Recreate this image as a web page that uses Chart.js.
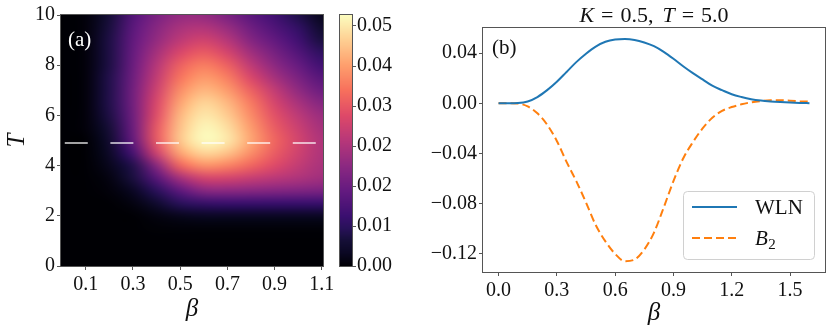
<!DOCTYPE html>
<html>
<head>
<meta charset="utf-8">
<script src="https://cdn.jsdelivr.net/npm/chart.js@4.4.1/dist/chart.umd.min.js"></script>
<style>
  html, body { margin: 0; padding: 0; background: #ffffff; }
  #wrap { position: relative; width: 831px; height: 332px; overflow: hidden; background: #fff; }
  canvas { position: absolute; top: 0; }
</style>
</head>
<body>
<div id="wrap">
  <canvas id="heat" width="340" height="332" style="left:0px"></canvas>
  <canvas id="cbar" width="90" height="332" style="left:330px"></canvas>
  <canvas id="lines" width="411" height="332" style="left:420px"></canvas>
</div>
<script>
// ---------------- DATA ----------------
// Panel (a): WLN heat map, rows = T values, columns = beta values
const betaGrid = [0.0, 0.1, 0.2, 0.3, 0.4, 0.5, 0.6, 0.7, 0.8, 0.9, 1.0, 1.1];
const tGrid = [0, 0.5, 1, 1.5, 2, 2.5, 3, 3.5, 4, 4.5, 5, 5.5, 6, 6.5, 7, 7.5, 8, 8.5, 9, 9.5, 10];
const wlnGrid = [
  [0,0,0,0,0,0,0,0,0,0,0,0],
  [0,0,0,0,0,0,0,0,0,0,0,0],
  [0,0,0,0,0,0,0,0,0,0,0,0],
  [0,0,0,0,0.0002,0.0003,0.0003,0.0003,0.0003,0.0003,0.0003,0.0003],
  [0,0,0,0,0.0010,0.0020,0.0026,0.0026,0.0026,0.0026,0.0026,0.0026],
  [0,0,0,0.0010,0.0041,0.0077,0.0092,0.0097,0.0097,0.0097,0.0097,0.0097],
  [0,0,0.0005,0.0026,0.0077,0.0143,0.0194,0.0199,0.0194,0.0189,0.0184,0.0179],
  [0,0,0.0010,0.0056,0.0133,0.0230,0.0286,0.0286,0.0270,0.0255,0.0240,0.0224],
  [0,0,0.0020,0.0066,0.0194,0.0337,0.0388,0.0372,0.0337,0.0301,0.0265,0.0235],
  [0,0,0.0031,0.0112,0.0281,0.0408,0.0459,0.0439,0.0383,0.0326,0.0281,0.0240],
  [0,0,0.0041,0.0148,0.0321,0.0444,0.0500,0.0479,0.0408,0.0337,0.0286,0.0240],
  [0,0.0005,0.0051,0.0158,0.0321,0.0439,0.0495,0.0469,0.0398,0.0326,0.0275,0.0230],
  [0,0.0005,0.0061,0.0163,0.0306,0.0428,0.0479,0.0449,0.0380,0.0310,0.0258,0.0216],
  [0,0.0005,0.0066,0.0168,0.0296,0.0408,0.0459,0.0428,0.0362,0.0290,0.0234,0.0190],
  [0,0.0005,0.0066,0.0168,0.0281,0.0383,0.0428,0.0398,0.0332,0.0265,0.0204,0.0160],
  [0,0.0005,0.0066,0.0163,0.0265,0.0357,0.0398,0.0367,0.0296,0.0230,0.0178,0.0133],
  [0,0.0005,0.0061,0.0158,0.0250,0.0332,0.0367,0.0332,0.0260,0.0199,0.0153,0.0107],
  [0,0.0005,0.0061,0.0153,0.0230,0.0296,0.0326,0.0290,0.0224,0.0173,0.0128,0.0082],
  [0,0.0005,0.0061,0.0148,0.0209,0.0260,0.0285,0.0250,0.0189,0.0148,0.0107,0.0056],
  [0,0.0005,0.0056,0.0140,0.0194,0.0235,0.0245,0.0214,0.0163,0.0125,0.0087,0.0038],
  [0,0.0005,0.0051,0.0130,0.0178,0.0209,0.0209,0.0178,0.0138,0.0107,0.0064,0.0020]
];
const cutBeta = [0.011, 1.079];   // dashed cut line extent
const cutT = 4.9;
const heatXTicks = [0.1, 0.3, 0.5, 0.7, 0.9, 1.1];
const heatYTicks = [0, 2, 4, 6, 8, 10];
const cbarMax = 0.0502;
const cbarTicks = [0, 0.008, 0.016, 0.024, 0.032, 0.040, 0.048];

// Panel (b): cut at K = 0.5, T = 5.0
const betaLine = [0.00,0.05,0.10,0.15,0.20,0.25,0.30,0.35,0.40,0.45,0.50,0.55,0.60,0.65,0.70,0.75,0.80,
                  0.85,0.90,0.95,1.00,1.05,1.10,1.15,1.20,1.25,1.30,1.35,1.40,1.45,1.50,1.55,1.60];
const wlnLine = [0.0000,0.0000,0.0002,0.0015,0.0050,0.0105,0.0172,0.0250,0.0328,0.0395,0.0452,0.0490,0.0508,
                 0.0512,0.0505,0.0485,0.0455,0.0410,0.0355,0.0295,0.0240,0.0190,0.0140,0.0105,0.0072,0.0050,
                 0.0033,0.0022,0.0015,0.0010,0.0006,0.0003,0.0001];
const b2Line = [0.0000,0.0000,-0.0002,-0.0025,-0.0080,-0.0170,-0.0300,-0.0467,-0.0620,-0.0790,-0.0970,-0.1100,
                -0.1200,-0.1258,-0.1245,-0.1165,-0.1030,-0.0830,-0.0620,-0.0440,-0.0310,-0.0200,-0.0115,-0.0060,
                -0.0030,-0.0008,0.0008,0.0018,0.0024,0.0024,0.0021,0.0017,0.0013];
const lineXTicks = [0.0, 0.3, 0.6, 0.9, 1.2, 1.5];
const lineYTicks = [-0.12, -0.08, -0.04, 0.00, 0.04];

// ---------------- STYLE HELPERS ----------------
const SERIF = '"Liberation Serif", "DejaVu Serif", serif';
const FRAME = '#555555';
const magmaStops = [
  [0.00, [0, 0, 4]], [0.05, [10, 7, 34]], [0.10, [20, 14, 54]], [0.15, [40, 17, 89]],
  [0.20, [59, 15, 112]], [0.30, [100, 26, 128]], [0.40, [140, 41, 129]], [0.50, [183, 55, 121]],
  [0.60, [222, 73, 104]], [0.70, [247, 112, 92]], [0.80, [254, 159, 109]], [0.90, [254, 207, 146]],
  [1.00, [252, 253, 191]]
];
function magma(t) {
  t = Math.max(0, Math.min(1, t));
  for (let i = 1; i < magmaStops.length; i++) {
    if (t <= magmaStops[i][0]) {
      const [t0, c0] = magmaStops[i - 1], [t1, c1] = magmaStops[i];
      const f = (t - t0) / (t1 - t0);
      return [0, 1, 2].map(k => Math.round(c0[k] + f * (c1[k] - c0[k])));
    }
  }
  return magmaStops[magmaStops.length - 1][1];
}
function fixedTicks(list) {
  return function (scale) { scale.ticks = list.map(v => ({ value: v })); };
}
function frame(chart) {
  const a = chart.chartArea, ctx = chart.ctx;
  ctx.save();
  ctx.strokeStyle = FRAME; ctx.lineWidth = 1;
  ctx.strokeRect(Math.round(a.left) - 0.5, Math.round(a.top) - 0.5,
                 Math.round(a.right - a.left) + 1, Math.round(a.bottom - a.top) + 1);
  ctx.restore();
}
const tickFont = { family: SERIF, size: 20 };
const titleFont = { family: SERIF, size: 25, style: 'italic' };
const gridTicksOnly = { display: true, drawOnChartArea: false, drawTicks: true, tickLength: 4, tickColor: FRAME, tickWidth: 1 };

// ---------------- PANEL (a) HEATMAP ----------------
const heatPlugin = {
  id: 'heatmap',
  beforeDatasetsDraw(chart) {
    const xs = chart.scales.x, ys = chart.scales.y, a = chart.chartArea, ctx = chart.ctx;
    const nx = betaGrid.length, ny = tGrid.length;
    const off = document.createElement('canvas');
    off.width = nx; off.height = ny;
    const octx = off.getContext('2d');
    const img = octx.createImageData(nx, ny);
    for (let r = 0; r < ny; r++) {
      const row = wlnGrid[ny - 1 - r];
      for (let c = 0; c < nx; c++) {
        const col = magma(row[c] / cbarMax);
        const p = (r * nx + c) * 4;
        img.data[p] = col[0]; img.data[p + 1] = col[1]; img.data[p + 2] = col[2]; img.data[p + 3] = 255;
      }
    }
    octx.putImageData(img, 0, 0);
    const dB = (betaGrid[1] - betaGrid[0]) / 2, dT = (tGrid[1] - tGrid[0]) / 2;
    const x0 = xs.getPixelForValue(betaGrid[0] - dB), x1 = xs.getPixelForValue(betaGrid[nx - 1] + dB);
    const y0 = ys.getPixelForValue(tGrid[ny - 1] + dT), y1 = ys.getPixelForValue(tGrid[0] - dT);
    ctx.save();
    ctx.beginPath(); ctx.rect(a.left, a.top, a.right - a.left, a.bottom - a.top); ctx.clip();
    ctx.imageSmoothingEnabled = true; ctx.imageSmoothingQuality = 'high';
    ctx.drawImage(off, x0, y0, x1 - x0, y1 - y0);
    ctx.restore();
  },
  afterDraw(chart) {
    frame(chart);
    const ctx = chart.ctx;
    ctx.save();
    ctx.fillStyle = '#ffffff';
    ctx.font = '21px ' + SERIF;
    ctx.textBaseline = 'middle'; ctx.textAlign = 'left';
    ctx.fillText('(a)', 68, 40);
    ctx.restore();
  }
};

new Chart(document.getElementById('heat'), {
  type: 'scatter',
  data: {
    datasets: [{
      data: cutBeta.map(b => ({ x: b, y: cutT })),
      showLine: true, borderColor: 'rgba(255,255,255,0.85)', borderWidth: 1.5,
      borderDash: [23, 22.6], pointRadius: 0, fill: false
    }]
  },
  options: {
    responsive: false, animation: false, events: [],
    layout: { padding: { left: 0, right: 17, top: 15, bottom: 0 } },
    plugins: { legend: { display: false }, tooltip: { enabled: false } },
    scales: {
      x: {
        type: 'linear', min: -0.005, max: 1.105,
        afterBuildTicks: fixedTicks(heatXTicks),
        afterFit(s) { s.height = 66; },
        grid: gridTicksOnly, border: { display: false },
        ticks: { font: tickFont, color: '#111', padding: 3, maxRotation: 0, callback: v => v.toFixed(1) },
        title: { display: true, text: 'β', font: titleFont, color: '#111', padding: { top: 0, bottom: 8 } }
      },
      y: {
        type: 'linear', min: 0, max: 10,
        afterBuildTicks: fixedTicks(heatYTicks),
        afterFit(s) { s.width = 61; },
        grid: gridTicksOnly, border: { display: false },
        ticks: { font: tickFont, color: '#111', padding: 2, callback: v => String(v) },
        title: { display: true, text: 'T', font: titleFont, color: '#111', padding: { top: 2, bottom: 0 } }
      }
    }
  },
  plugins: [heatPlugin]
});

// ---------------- COLORBAR ----------------
const cbarPlugin = {
  id: 'cbarfill',
  beforeDatasetsDraw(chart) {
    const ys = chart.scales.y, a = chart.chartArea, ctx = chart.ctx;
    ctx.save();
    for (let py = Math.floor(a.top); py < Math.ceil(a.bottom); py++) {
      const v = ys.getValueForPixel(py + 0.5);
      const c = magma(v / cbarMax);
      ctx.fillStyle = `rgb(${c[0]},${c[1]},${c[2]})`;
      ctx.fillRect(a.left, py, a.right - a.left, 1);
    }
    ctx.restore();
  },
  afterDraw(chart) { frame(chart); }
};
new Chart(document.getElementById('cbar'), {
  type: 'scatter',
  data: { datasets: [{ data: [] }] },
  options: {
    responsive: false, animation: false, events: [],
    layout: { padding: { left: 10, right: 0, top: 15, bottom: 66 } },
    plugins: { legend: { display: false }, tooltip: { enabled: false } },
    scales: {
      x: { type: 'linear', min: 0, max: 1, display: false },
      y: {
        type: 'linear', position: 'right', min: 0, max: cbarMax,
        afterBuildTicks: fixedTicks(cbarTicks),
        afterFit(s) { s.width = 68; },
        grid: gridTicksOnly, border: { display: false },
        ticks: { font: tickFont, color: '#111', padding: 1, callback: v => v.toFixed(2) }
      }
    }
  },
  plugins: [cbarPlugin]
});

// ---------------- PANEL (b) LINES ----------------
const linesPlugin = {
  id: 'linesdeco',
  afterDraw(chart) {
    frame(chart);
    const ctx = chart.ctx;
    ctx.save();
    // title  K = 0.5, T = 5.0  (math-style spacing)
    const parts = [['K', true, 7], ['=', false, 7], ['0.5,', false, 9], ['T', true, 7], ['=', false, 7], ['5.0', false, 0]];
    const F = '22px ' + SERIF;
    let total = 0;
    parts.forEach(p => { ctx.font = (p[1] ? 'italic ' : '') + F; total += ctx.measureText(p[0]).width + p[2]; });
    let x = 234 - total / 2;
    ctx.fillStyle = '#111'; ctx.textBaseline = 'alphabetic'; ctx.textAlign = 'left';
    parts.forEach(p => { ctx.font = (p[1] ? 'italic ' : '') + F; ctx.fillText(p[0], x, 22); x += ctx.measureText(p[0]).width + p[2]; });
    // panel label
    ctx.font = '21px ' + SERIF; ctx.textBaseline = 'middle';
    ctx.fillText('(b)', 72, 48);
    // legend box
    const bx = 263.5, by = 191.5, bw = 131, bh = 68, r = 4;
    ctx.beginPath();
    ctx.moveTo(bx + r, by); ctx.lineTo(bx + bw - r, by); ctx.quadraticCurveTo(bx + bw, by, bx + bw, by + r);
    ctx.lineTo(bx + bw, by + bh - r); ctx.quadraticCurveTo(bx + bw, by + bh, bx + bw - r, by + bh);
    ctx.lineTo(bx + r, by + bh); ctx.quadraticCurveTo(bx, by + bh, bx, by + bh - r);
    ctx.lineTo(bx, by + r); ctx.quadraticCurveTo(bx, by, bx + r, by); ctx.closePath();
    ctx.fillStyle = 'rgba(255,255,255,0.8)'; ctx.fill();
    ctx.strokeStyle = '#d0d0d0'; ctx.lineWidth = 1; ctx.stroke();
    const ds = chart.data.datasets;
    ctx.lineWidth = 2;
    ctx.strokeStyle = ds[0].borderColor; ctx.setLineDash([]);
    ctx.beginPath(); ctx.moveTo(272, 207); ctx.lineTo(317, 207); ctx.stroke();
    ctx.strokeStyle = ds[1].borderColor; ctx.setLineDash(ds[1].borderDash);
    ctx.beginPath(); ctx.moveTo(272, 238); ctx.lineTo(317, 238); ctx.stroke();
    ctx.setLineDash([]);
    ctx.fillStyle = '#111';
    ctx.font = '21px ' + SERIF; ctx.textBaseline = 'middle';
    ctx.fillText(ds[0].label, 335, 208);
    ctx.font = 'italic 21px ' + SERIF;
    ctx.fillText('B', 335, 239);
    const bw2 = ctx.measureText('B').width;
    ctx.font = '15px ' + SERIF;
    ctx.fillText('2', 335 + bw2 + 0.5, 245);
    ctx.restore();
  }
};
new Chart(document.getElementById('lines'), {
  type: 'scatter',
  data: {
    datasets: [
      { label: 'WLN', data: betaLine.map((b, i) => ({ x: b, y: wlnLine[i] })), showLine: true,
        borderColor: '#1f77b4', borderWidth: 2, pointRadius: 0, cubicInterpolationMode: 'monotone', fill: false },
      { label: 'B2', data: betaLine.map((b, i) => ({ x: b, y: b2Line[i] })), showLine: true,
        borderColor: '#ff7f0e', borderWidth: 2, borderDash: [8, 4], pointRadius: 0, cubicInterpolationMode: 'monotone', fill: false }
    ]
  },
  options: {
    responsive: false, animation: false, events: [],
    layout: { padding: { left: 0, right: 6, top: 28, bottom: 0 } },
    plugins: { legend: { display: false }, tooltip: { enabled: false } },
    scales: {
      x: {
        type: 'linear', min: -0.08, max: 1.68,
        afterBuildTicks: fixedTicks(lineXTicks),
        afterFit(s) { s.height = 60; },
        grid: gridTicksOnly, border: { display: false },
        ticks: { font: tickFont, color: '#111', padding: 3, maxRotation: 0, callback: v => v.toFixed(1) },
        title: { display: true, text: 'β', font: titleFont, color: '#111', padding: { top: 0, bottom: 4 } }
      },
      y: {
        type: 'linear', min: -0.1344, max: 0.0600,
        afterBuildTicks: fixedTicks(lineYTicks),
        afterFit(s) { s.width = 63; },
        grid: gridTicksOnly, border: { display: false },
        ticks: { font: tickFont, color: '#111', padding: 2, callback: v => v.toFixed(2).replace('-', '\u2212') }
      }
    }
  },
  plugins: [linesPlugin]
});
</script>
</body>
</html>
